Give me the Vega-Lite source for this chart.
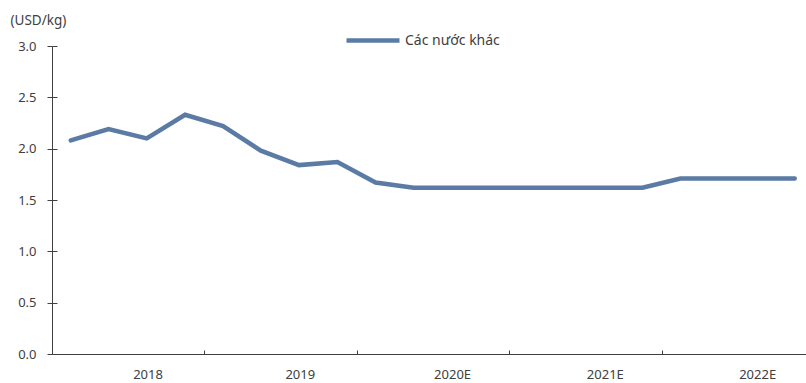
{
  "$schema": "https://vega.github.io/schema/vega-lite/v6.json",
  "autosize": "none",
  "width": 754,
  "height": 308,
  "padding": {"left": 52, "top": 46, "right": 0, "bottom": 29},
  "background": "white",
  "config": {
    "view": {"stroke": null},
    "font": "Noto Sans",
    "axis": {"labelFont": "Noto Sans", "labelColor": "#404040", "labelFontSize": 13, "domainColor": "#404040", "tickColor": "#404040", "gridColor": "#404040"}
  },
  "data": {
    "values": [
      {"quarter": "2018-01-01", "price": 2.08, "series": "Các nước khác"},
      {"quarter": "2018-04-01", "price": 2.19, "series": "Các nước khác"},
      {"quarter": "2018-07-01", "price": 2.10, "series": "Các nước khác"},
      {"quarter": "2018-10-01", "price": 2.33, "series": "Các nước khác"},
      {"quarter": "2019-01-01", "price": 2.22, "series": "Các nước khác"},
      {"quarter": "2019-04-01", "price": 1.98, "series": "Các nước khác"},
      {"quarter": "2019-07-01", "price": 1.84, "series": "Các nước khác"},
      {"quarter": "2019-10-01", "price": 1.87, "series": "Các nước khác"},
      {"quarter": "2020-01-01", "price": 1.67, "series": "Các nước khác"},
      {"quarter": "2020-04-01", "price": 1.62, "series": "Các nước khác"},
      {"quarter": "2020-07-01", "price": 1.62, "series": "Các nước khác"},
      {"quarter": "2020-10-01", "price": 1.62, "series": "Các nước khác"},
      {"quarter": "2021-01-01", "price": 1.62, "series": "Các nước khác"},
      {"quarter": "2021-04-01", "price": 1.62, "series": "Các nước khác"},
      {"quarter": "2021-07-01", "price": 1.62, "series": "Các nước khác"},
      {"quarter": "2021-10-01", "price": 1.62, "series": "Các nước khác"},
      {"quarter": "2022-01-01", "price": 1.71, "series": "Các nước khác"},
      {"quarter": "2022-04-01", "price": 1.71, "series": "Các nước khác"},
      {"quarter": "2022-07-01", "price": 1.71, "series": "Các nước khác"},
      {"quarter": "2022-10-01", "price": 1.71, "series": "Các nước khác"}
    ]
  },
  "mark": {"type": "line", "strokeWidth": 4.5, "strokeCap": "round", "strokeJoin": "miter", "clip": false},
  "encoding": {
    "x": {
      "field": "quarter",
      "type": "temporal",
      "timeUnit": "utcyearquarter",
      "bandPosition": 0.5,
      "scale": {"type": "utc", "domain": [{"year": 2018, "month": 1, "date": 1, "utc": true}, {"year": 2022, "month": 12, "date": 13, "utc": true}]},
      "axis": {
        "title": null,
        "values": [
          {"year": 2018, "month": 1, "date": 1, "utc": true},
          {"year": 2019, "month": 1, "date": 1, "utc": true},
          {"year": 2020, "month": 1, "date": 1, "utc": true},
          {"year": 2021, "month": 1, "date": 1, "utc": true},
          {"year": 2022, "month": 1, "date": 1, "utc": true}
        ],
        "labelExpr": "utcyear(datum.value) >= 2020 ? utcFormat(datum.value, '%Y') + 'E' : utcFormat(datum.value, '%Y')",
        "labelOffset": 95.5,
        "labelPadding": 20,
        "labelBaseline": "middle",
        "labelOverlap": false,
        "labelFlush": false,
        "labelBound": false,
        "ticks": false,
        "grid": true,
        "gridDash": [0, 304, 4, 20],
        "gridWidth": 1,
        "domainWidth": 1
      }
    },
    "y": {
      "field": "price",
      "type": "quantitative",
      "scale": {"domain": [0, 3], "nice": false, "zero": true},
      "axis": {
        "title": "(USD/kg)",
        "titleAngle": 0,
        "titleAlign": "left",
        "titleBaseline": "middle",
        "titleX": -42,
        "titleY": -26,
        "titleFont": "Noto Sans",
        "titleFontWeight": "normal",
        "titleFontSize": 13.5,
        "titleColor": "#404040",
        "values": [0, 0.5, 1, 1.5, 2, 2.5, 3],
        "format": ".1f",
        "tickSize": 5,
        "labelPadding": 11,
        "grid": true,
        "gridDash": [5, 3000],
        "domainWidth": 1
      }
    },
    "color": {
      "field": "series",
      "type": "nominal",
      "scale": {"range": ["#5b7ba5"]},
      "legend": {
        "title": null,
        "orient": "none",
        "legendX": 292,
        "legendY": -34.5,
        "padding": 0,
        "symbolType": "stroke",
        "symbolSize": 2809,
        "symbolStrokeWidth": 4.5,
        "labelFont": "Noto Sans",
        "labelFontSize": 14,
        "labelColor": "#404040",
        "labelOffset": 3
      }
    }
  }
}
